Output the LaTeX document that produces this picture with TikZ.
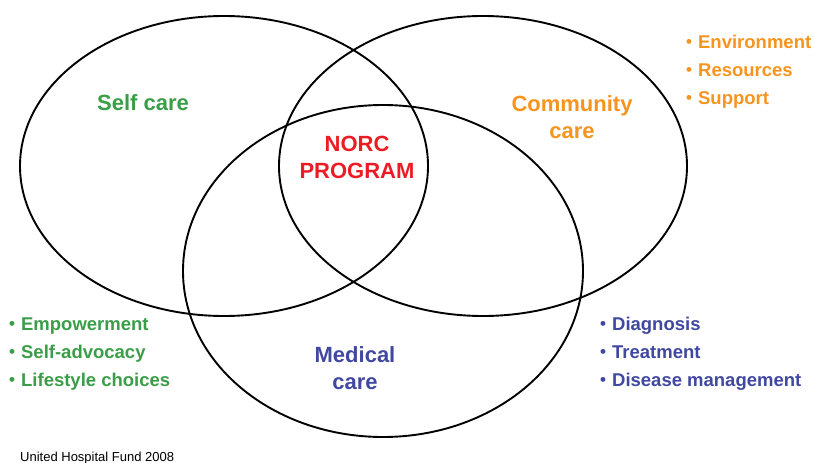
\documentclass[tikz,border=0pt]{standalone}
\usepackage{fontspec}
\setmainfont{Liberation Sans}
\usetikzlibrary{shapes.geometric}
\definecolor{cgreen}{RGB}{58,158,72}
\definecolor{corange}{RGB}{247,148,30}
\definecolor{cred}{RGB}{237,28,36}
\definecolor{cblue}{RGB}{64,72,160}
\newcommand{\bul}{{\fontsize{17}{17}\selectfont\raisebox{1pt}{•}}\hspace{6pt}}
\tikzset{
  venn/.style={ellipse, draw=black, line width=1.9pt, inner sep=0pt},
  biglabel/.style={font=\bfseries\fontsize{22}{27}\selectfont, align=center, anchor=base, inner sep=0pt},
  bullist/.style={font=\bfseries\fontsize{18.5}{28}\selectfont, align=left, anchor=base west, inner sep=0pt},
}
\begin{document}
\begin{tikzpicture}[x=1pt,y=-1pt]
\useasboundingbox (0,0) rectangle (814,463);
\node[venn, minimum width=408pt, minimum height=300pt] (self) at (224,166) {};
\node[venn, minimum width=408pt, minimum height=300pt] (comm) at (483,166) {};
\node[venn, minimum width=400pt, minimum height=332pt] (med) at (383,271) {};
\node[biglabel, text=cgreen] (selfl) at (143,110) {Self care};
\node[biglabel, text=corange] (comml) at (572,138) {Community\\care};
\node[biglabel, text=cred] (norc) at (357,178) {NORC\\PROGRAM};
\node[biglabel, text=cblue] (medl) at (355,389) {Medical\\care};
\node[bullist, text=cgreen] (selfb) at (9,386) {\bul Empowerment\\\bul Self-advocacy\\\bul Lifestyle choices};
\node[bullist, text=cblue] (medb) at (600,386) {\bul Diagnosis\\\bul Treatment\\\bul Disease management};
\node[bullist, text=corange] (commb) at (686,104) {\bul Environment\\\bul Resources\\\bul Support};
\node[font=\fontsize{13}{13}\selectfont, anchor=base west, inner sep=0pt] (src) at (20,461) {United Hospital Fund 2008};
\end{tikzpicture}
\end{document}
